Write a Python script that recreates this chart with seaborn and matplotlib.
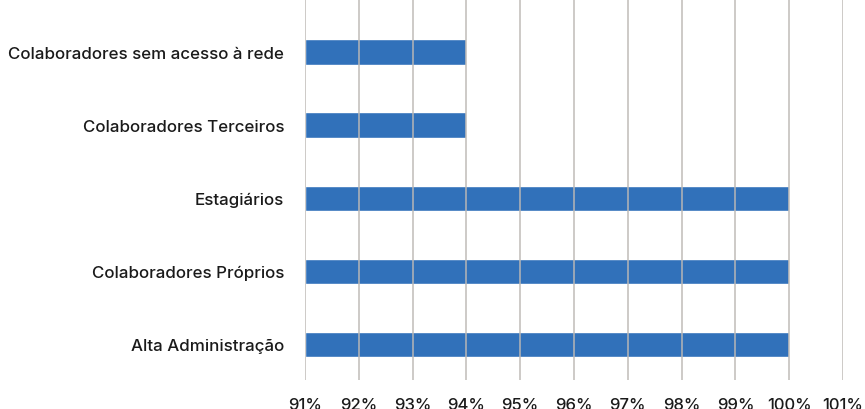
import matplotlib
matplotlib.use("Agg")
import matplotlib.pyplot as plt
import seaborn as sns
import pandas as pd

categories = [
    "Colaboradores sem acesso à rede",
    "Colaboradores Terceiros",
    "Estagiários",
    "Colaboradores Próprios",
    "Alta Administração",
]
values = [94, 94, 100, 100, 100]
ticks = list(range(91, 102))
tick_labels = [f"{t}%" for t in ticks]

df = pd.DataFrame({"grupo": categories, "pct": values})

sns.set_style("white")
plt.rcParams["font.family"] = ["Inter", "DejaVu Sans"]
plt.rcParams["font.weight"] = "medium"

fig = plt.figure(figsize=(8.65, 4.1), dpi=100)
ax = fig.add_axes([305 / 865, 1 - 381 / 410, (843 - 305) / 865, 381 / 410])

sns.barplot(data=df, y="grupo", x="pct", orient="h", color="#3171BA",
            saturation=1, width=0.345, ax=ax)
# bars start at the axis minimum
for p in ax.patches:
    w = p.get_width()
    p.set_x(91)
    p.set_width(w - 91)

ax.set_xlim(91, 101)
ax.set_ylim(4.49, -0.726)
ax.set_xticks(ticks)
ax.set_xticklabels(tick_labels)
ax.set_xlabel("")
ax.set_ylabel("")
for t in ticks:
    ax.axvline(t, color="#bdb9b5", lw=1.4, zorder=3, alpha=0.75)
for s in ax.spines.values():
    s.set_visible(False)
ax.tick_params(axis="y", length=0, labelsize=12.2, colors="#1a1a1a", pad=15)
ax.tick_params(axis="x", length=0, labelsize=12, colors="#1a1a1a", pad=12)

fig.savefig("out.png", dpi=100)
